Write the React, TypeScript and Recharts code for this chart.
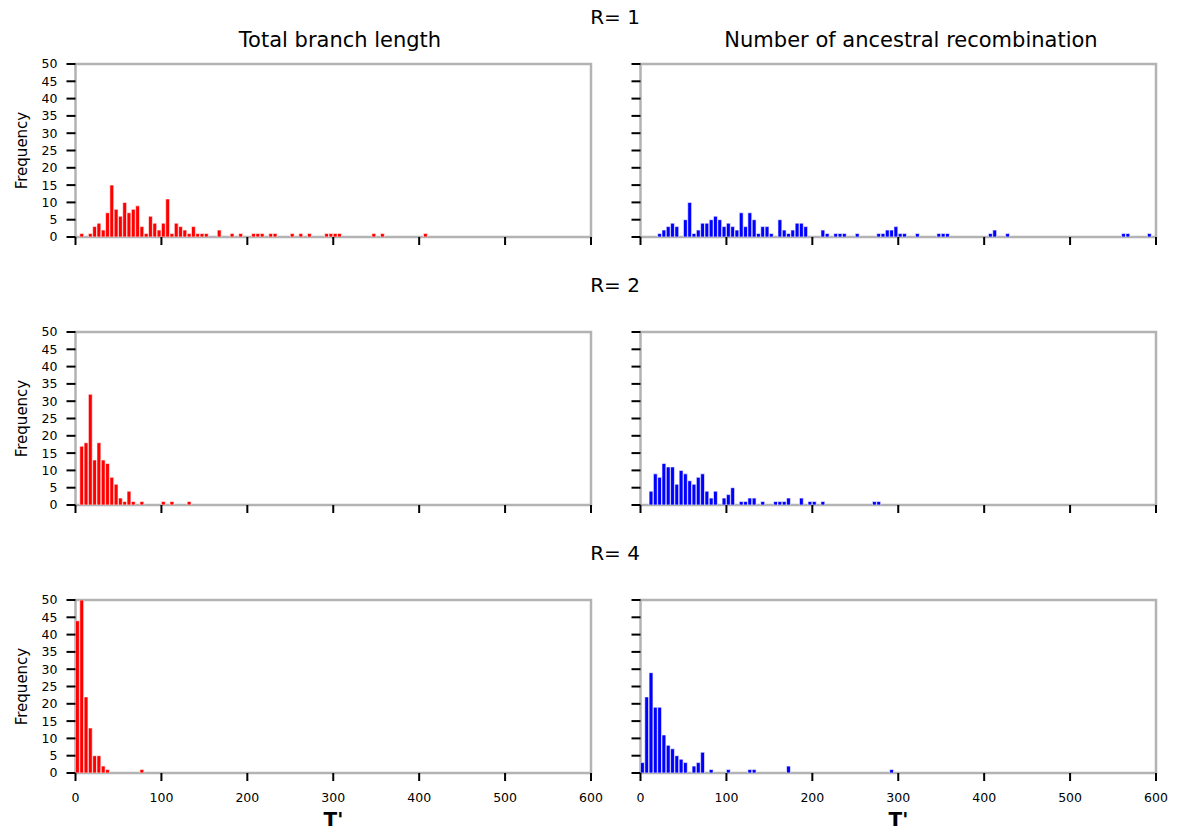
import { BarChart, Bar, XAxis, YAxis, ReferenceArea } from 'recharts';

// histogram bins are 5 wide, counts listed from the [0,5) bin upward
const BIN = 5;
const X_MAX = 600;
const Y_MAX = 50;
const xTicks = [0, 100, 200, 300, 400, 500, 600];
const yTicks = [0, 5, 10, 15, 20, 25, 30, 35, 40, 45, 50];
const rValues = [1, 2, 4];
const columnTitles = ['Total branch length', 'Number of ancestral recombination'];
const columnColors = ['#ff0000', '#0000ff'];

// total branch length, R = 1, 2, 4
const branchR1 = [
  0, 1, 0, 1, 3, 4, 2, 7, 15, 8,
  6, 10, 7, 8, 9, 3, 1, 6, 4, 2,
  4, 11, 1, 4, 3, 2, 1, 3, 1, 1,
  1, 0, 0, 2, 0, 0, 1, 0, 1, 0,
  0, 1, 1, 1, 0, 1, 1, 0, 0, 0,
  1, 0, 1, 0, 1, 0, 0, 0, 1, 1,
  1, 1, 0, 0, 0, 0, 0, 0, 0, 1,
  0, 1, 0, 0, 0, 0, 0, 0, 0, 0,
  0, 1,
];
const branchR2 = [
  0, 17, 18, 32, 13, 18, 13, 12, 8, 6,
  2, 1, 4, 1, 0, 1, 0, 0, 0, 0,
  1, 0, 1, 0, 0, 0, 1,
];
const branchR4 = [
  44, 50, 22, 13, 5, 5, 2, 1, 0, 0,
  0, 0, 0, 0, 0, 1,
];

// number of ancestral recombination, R = 1, 2, 4
const recombR1 = [
  0, 0, 0, 0, 1, 2, 3, 4, 3, 0,
  5, 10, 1, 2, 4, 4, 5, 6, 5, 3,
  4, 3, 2, 7, 3, 7, 5, 1, 3, 3,
  1, 0, 5, 2, 1, 2, 4, 4, 3, 0,
  0, 0, 2, 1, 0, 1, 1, 1, 0, 0,
  1, 0, 0, 0, 0, 1, 1, 2, 2, 3,
  1, 1, 0, 0, 1, 0, 0, 0, 0, 1,
  1, 1, 0, 0, 0, 0, 0, 0, 0, 0,
  0, 1, 2, 0, 0, 1, 0, 0, 0, 0,
  0, 0, 0, 0, 0, 0, 0, 0, 0, 0,
  0, 0, 0, 0, 0, 0, 0, 0, 0, 0,
  0, 0, 1, 1, 0, 0, 0, 0, 1,
];
const recombR2 = [
  0, 0, 4, 9, 8, 12, 11, 11, 6, 10,
  9, 7, 6, 8, 9, 4, 2, 4, 0, 2,
  3, 5, 0, 1, 1, 2, 2, 0, 1, 0,
  0, 1, 1, 1, 2, 0, 0, 2, 0, 1,
  1, 0, 1, 0, 0, 0, 0, 0, 0, 0,
  0, 0, 0, 0, 1, 1,
];
const recombR4 = [
  3, 22, 29, 19, 19, 11, 8, 7, 5, 4,
  3, 0, 2, 3, 6, 0, 1, 0, 0, 0,
  1, 0, 0, 0, 0, 1, 1, 0, 0, 0,
  0, 0, 0, 0, 2, 0, 0, 0, 0, 0,
  0, 0, 0, 0, 0, 0, 0, 0, 0, 0,
  0, 0, 0, 0, 0, 0, 0, 0, 1,
];

const panels = [
  [branchR1, recombR1],
  [branchR2, recombR2],
  [branchR4, recombR4],
];

const toBins = (counts: number[]) =>
  Array.from({ length: X_MAX / BIN }, (_, i) => ({ x: i * BIN + BIN / 2, n: counts[i] ?? 0 }));

// layout
const CHART_W = 620;
const AXIS_W = 75.5;
const RIGHT_PAD = 29;
const PLOT_W = CHART_W - AXIS_W - RIGHT_PAD;
const PLOT_H = 173;
const TOP_PAD = 10;
const XAXIS_H = 40;
const plotTops = [64, 332, 600];
const columnLefts = [0, 565];
const titleCenters = [340, 911];
const FRAME = '#b3b3b3';

// keeps the tick mark but draws no label
const NoLabel = () => <g />;

function Histogram({ counts, color, showY, showX }: { counts: number[]; color: string; showY: boolean; showX: boolean }) {
  const data = toBins(counts);
  return (
    <BarChart
      width={CHART_W}
      height={TOP_PAD + PLOT_H + XAXIS_H}
      data={data}
      margin={{ top: TOP_PAD, right: RIGHT_PAD, left: 0, bottom: 0 }}
      barCategoryGap={0}
      barGap={0}
    >
      <XAxis
        type="number"
        dataKey="x"
        domain={[0, X_MAX]}
        ticks={xTicks}
        interval={0}
        height={XAXIS_H}
        axisLine={false}
        tickLine={{ stroke: '#000', strokeWidth: 2 }}
        tickSize={8}
        tickMargin={12}
        tick={showX ? { fill: '#000', fontSize: 12.5 } : NoLabel}
        allowDataOverflow
      />
      <YAxis
        type="number"
        domain={[0, Y_MAX]}
        ticks={yTicks}
        width={AXIS_W}
        axisLine={false}
        tickLine={{ stroke: '#000', strokeWidth: 2 }}
        tickSize={9}
        tickMargin={9}
        tick={showY ? { fill: '#000', fontSize: 12.5 } : NoLabel}
        interval={0}
        allowDataOverflow
      />
      <Bar
        dataKey="n"
        fill={color}
        stroke="#fff"
        strokeWidth={0.6}
        barSize={(BIN * PLOT_W) / X_MAX}
        isAnimationActive={false}
      />
      <ReferenceArea
        x1={0}
        x2={X_MAX}
        y1={0}
        y2={Y_MAX}
        fill="none"
        fillOpacity={0}
        stroke={FRAME}
        strokeWidth={2.5}
        ifOverflow="visible"
      />
    </BarChart>
  );
}

export default function App() {
  return (
    <div
      style={{
        position: 'absolute',
        left: 0,
        top: 0,
        width: 1185,
        height: 830,
        background: '#fff',
        fontFamily: '"DejaVu Sans", sans-serif',
        overflow: 'hidden',
      }}
    >
      {panels.map((row, r) =>
        row.map((counts, c) => (
          <div
            key={`${r}-${c}`}
            style={{ position: 'absolute', left: columnLefts[c], top: plotTops[r] - TOP_PAD }}
          >
            <Histogram counts={counts} color={columnColors[c]} showY={c === 0} showX={r === panels.length - 1} />
          </div>
        ))
      )}
      <svg
        width={1185}
        height={830}
        style={{ position: 'absolute', left: 0, top: 0, pointerEvents: 'none' }}
        fontFamily='"DejaVu Sans", sans-serif'
      >
        {rValues.map((v, r) => (
          <text key={`r${v}`} x={615} y={plotTops[r] - 40} fontSize={20} textAnchor="middle" fill="#000">
            {`R= ${v}`}
          </text>
        ))}
        {columnTitles.map((t, c) => (
          <text key={t} x={titleCenters[c]} y={47} fontSize={21} textAnchor="middle" fill="#000">
            {t}
          </text>
        ))}
        {plotTops.map((top) => (
          <text
            key={`f${top}`}
            x={0}
            y={0}
            fontSize={15}
            textAnchor="middle"
            fill="#000"
            transform={`translate(27, ${top + PLOT_H / 2}) rotate(-90)`}
          >
            Frequency
          </text>
        ))}
        {columnLefts.map((left) => (
          <text
            key={`t${left}`}
            x={left + AXIS_W + 258}
            y={826}
            fontSize={20}
            fontWeight="bold"
            textAnchor="middle"
            fill="#000"
          >
            T'
          </text>
        ))}
      </svg>
    </div>
  );
}
